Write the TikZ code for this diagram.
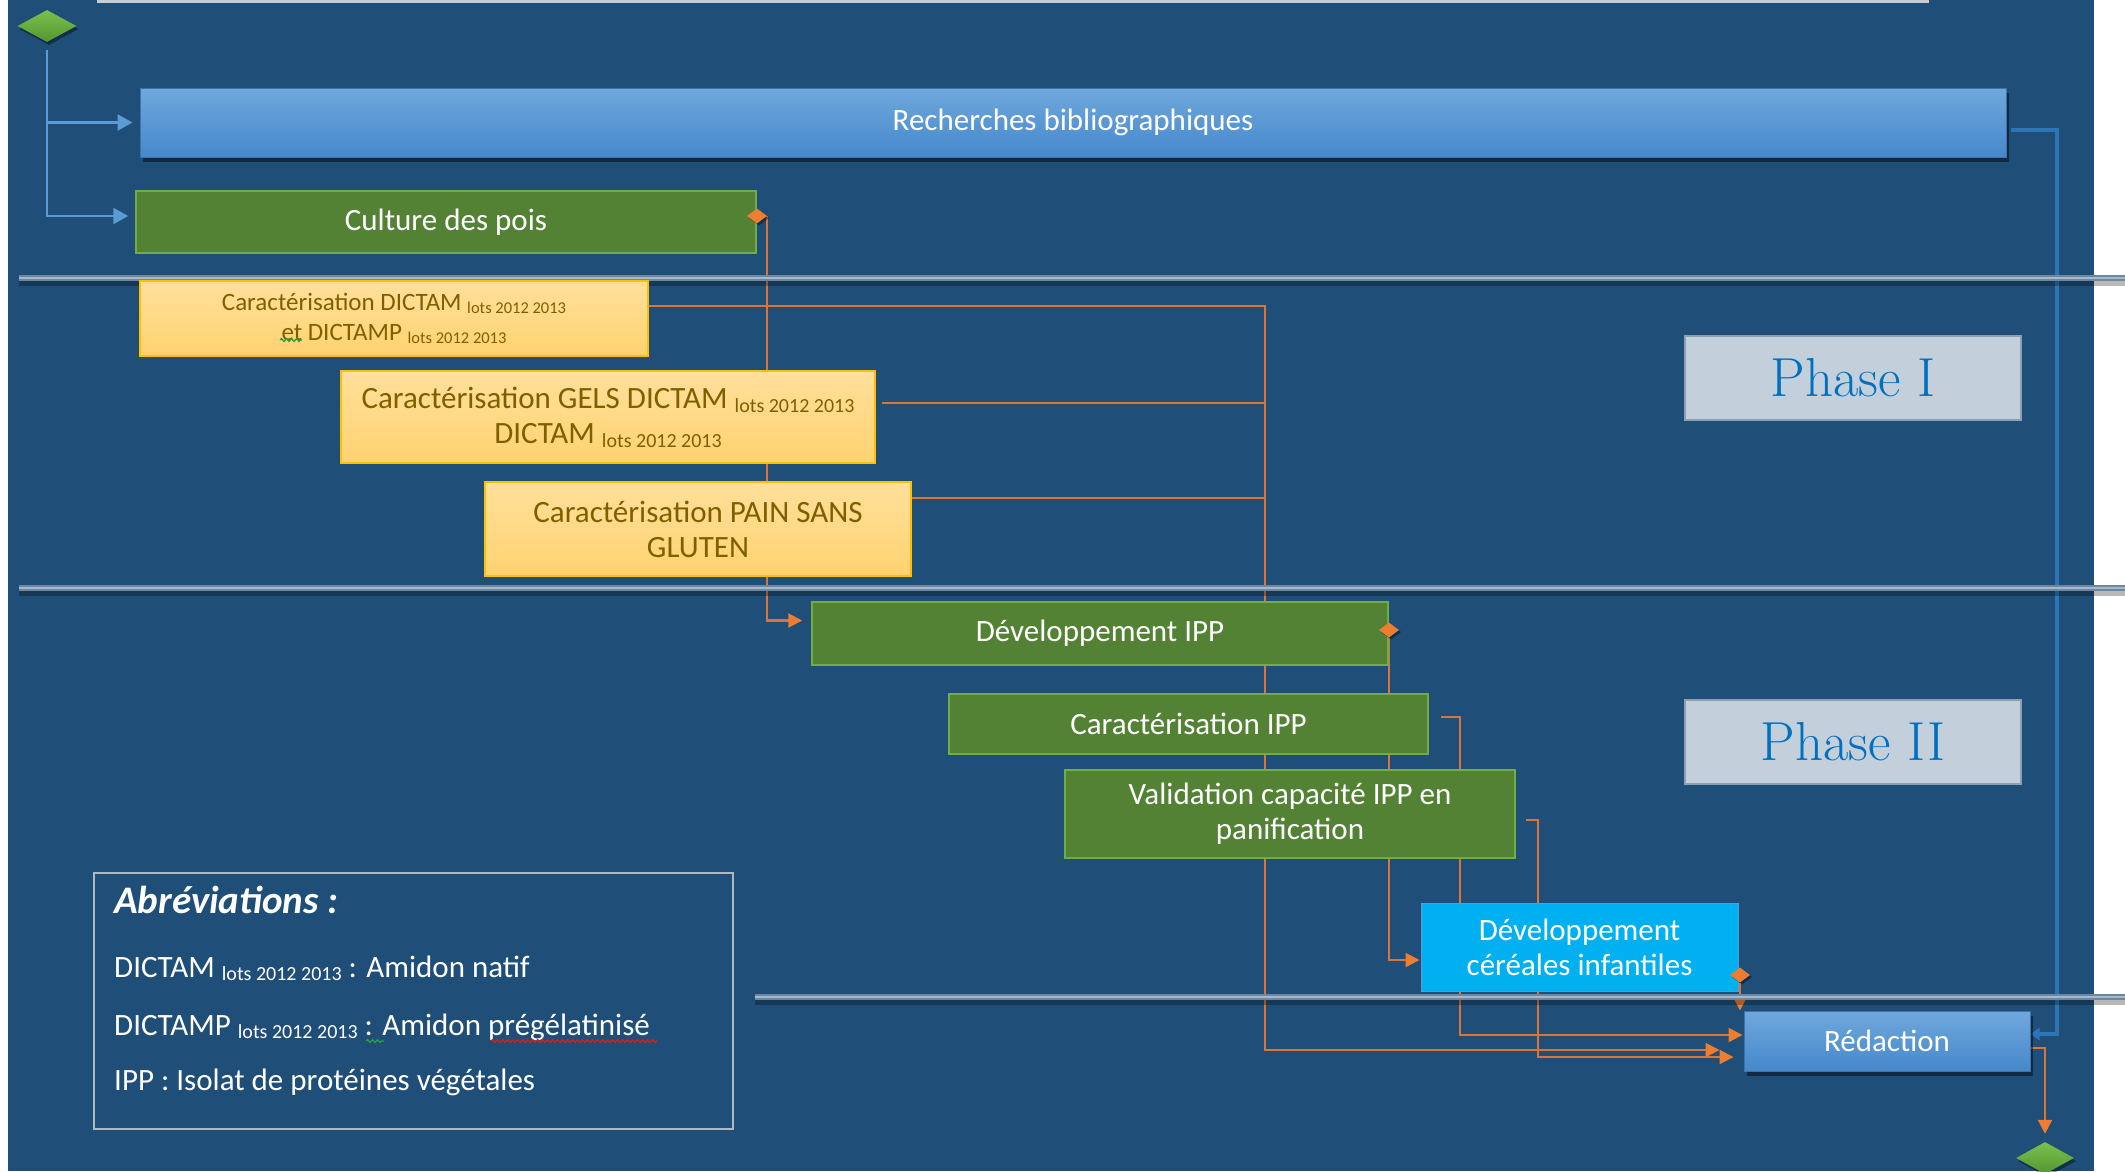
\documentclass[tikz,border=0pt]{standalone}
\usepackage{fontspec}
\newfontfamily\carlito{Carlito}
\usetikzlibrary{shapes.geometric,arrows.meta,shadows,decorations.pathmorphing}
\pgfdeclarelayer{panel}
\pgfdeclarelayer{links}
\pgfsetlayers{panel,links,main}

\definecolor{color1}{RGB}{31,78,121}
\definecolor{color2}{RGB}{111,168,220}
\definecolor{color3}{RGB}{70,136,204}
\definecolor{color4}{RGB}{65,113,170}
\definecolor{color5}{RGB}{84,130,53}
\definecolor{color6}{RGB}{112,173,71}
\definecolor{color7}{RGB}{255,224,155}
\definecolor{color8}{RGB}{255,210,112}
\definecolor{color9}{RGB}{255,192,0}
\definecolor{color10}{RGB}{127,96,0}
\definecolor{color11}{RGB}{0,176,240}
\definecolor{color12}{RGB}{91,155,213}
\definecolor{color13}{RGB}{237,125,49}
\definecolor{color14}{RGB}{220,115,55}
\definecolor{color15}{RGB}{91,155,213}
\definecolor{color16}{RGB}{46,117,182}
\definecolor{color17}{RGB}{195,207,218}
\definecolor{color18}{RGB}{140,160,180}
\definecolor{color19}{RGB}{0,112,192}
\definecolor{color20}{RGB}{110,135,160}
\definecolor{color21}{RGB}{165,185,205}
\definecolor{color22}{RGB}{175,185,195}
\definecolor{color23}{RGB}{122,193,76}
\definecolor{color24}{RGB}{84,150,50}
\definecolor{color25}{RGB}{200,205,212}
\definecolor{color26}{RGB}{215,30,30}
\definecolor{color27}{RGB}{40,160,60}

\newcommand{\lotssub}[1]{\raisebox{-0.25ex}{\fontsize{#1}{#1}\selectfont lots 2012 2013}}

\tikzset{
	mainfont/.style={font=\carlito\fontsize{31}{35}\selectfont},
	bluebar/.style={rectangle, draw=color4, line width=1pt, top color=color2, bottom color=color3, text=white, mainfont, drop shadow={shadow xshift=3pt, shadow yshift=-5pt, opacity=0.45, fill=black}},
	greenbar/.style={rectangle, fill=color5, draw=color6, line width=1.5pt, text=white, mainfont, align=center},
	yellowbar/.style={rectangle, draw=color9, line width=1.5pt, top color=color7, bottom color=color8, text=color10, mainfont, align=center},
	cyanbar/.style={rectangle, fill=color11, draw=color12, line width=1pt, text=white, mainfont, align=center},
	phasebox/.style={rectangle, fill=color17, draw=color18, line width=2pt, text=color19, font=\fontsize{55}{64}\selectfont},
	milestone/.style={diamond, inner sep=0pt, draw=none, top color=color23, bottom color=color24, drop shadow={shadow xshift=2pt, shadow yshift=-3pt, opacity=0.4, fill=black}},
	joint/.style={diamond, inner sep=0pt, fill=color13, minimum width=20pt, minimum height=15pt, drop shadow={shadow xshift=2pt, shadow yshift=-2pt, opacity=0.4, fill=black}},
	orangelink/.style={draw=color14, line width=2.2pt},
	orangearrow/.style={orangelink, -{Triangle[length=14pt,width=14pt,color=color13]}},
	bluearrow/.style={draw=color15, line width=2.5pt, shorten >=7pt, -{Triangle[length=15pt,width=16pt]}},
	bluelink/.style={draw=color16, line width=3.5pt, -{Triangle[length=9pt,width=12pt]}},
	sepline/.style={draw=color20, line width=1.8pt, double=color21, double distance=2pt},
	sepshadow/.style={draw=black, opacity=0.28, line width=5pt},
	legendtext/.style={anchor=base west, inner sep=0pt, text=white, mainfont},
	squiggle/.style={line width=1.3pt, decorate, decoration={snake, amplitude=1.4pt, segment length=5pt}}
}

\begin{document}
\begin{tikzpicture}[x=1pt, y=-1pt]
	\useasboundingbox (0,0) rectangle (2125,1171);
	\begin{pgfonlayer}{panel}
		\fill[color1] (8,0) rectangle (2094,1171);
		\draw[color25, line width=3pt] (97,1.5) -- (1929,1.5);
	\end{pgfonlayer}
	% phase separators
	\draw[sepshadow] (19,283) -- (2125,283);
	\draw[sepline] (19,278) -- (2125,278);
	\draw[sepshadow] (19,593) -- (2125,593);
	\draw[sepline] (19,588) -- (2125,588);
	\draw[sepshadow] (755,1002) -- (2125,1002);
	\draw[sepline] (755,997) -- (2125,997);
	% milestones
	\node[milestone, minimum width=59pt, minimum height=32pt] (m1) at (47,26) {};
	\node[milestone, minimum width=58pt, minimum height=32pt] (m2) at (2045,1158) {};
	% phase I
	\node[bluebar, minimum width=1866pt, minimum height=69pt] (n1) at (1073,122.5) {Recherches bibliographiques};
	\node[greenbar, minimum width=620pt, minimum height=62pt] (n2) at (446,222) {Culture des pois};
	\node[joint] (j2) at (757,216) {};
	\node[yellowbar, minimum width=508pt, minimum height=75pt, font=\carlito\fontsize{25}{30}\selectfont] (n3) at (394,318.5) {Caractérisation DICTAM \lotssub{16.5}\\et DICTAMP \lotssub{16.5}};
	\node[yellowbar, minimum width=534pt, minimum height=92pt] (n4) at (608,417) {Caractérisation GELS DICTAM \lotssub{20}\\DICTAM \lotssub{20}};
	\node[yellowbar, minimum width=426pt, minimum height=94pt] (n5) at (698,529) {Caractérisation PAIN SANS\\GLUTEN};
	% phase II
	\node[greenbar, minimum width=576pt, minimum height=63pt] (n6) at (1100,633.5) {Développement IPP};
	\node[joint] (j6) at (1389,630) {};
	\node[greenbar, minimum width=479pt, minimum height=60pt] (n7) at (1188.5,724) {Caractérisation IPP};
	\node[greenbar, minimum width=450pt, minimum height=88pt] (n8) at (1290,814) {Validation capacité IPP en\\panification};
	\node[cyanbar, minimum width=317pt, minimum height=88pt] (n9) at (1579.5,947) {Développement\\céréales infantiles};
	\node[joint] (j9) at (1740,975) {};
	\node[bluebar, minimum width=286pt, minimum height=60pt] (n10) at (1887,1041) {Rédaction};
	% phase labels
	\node[phasebox, minimum width=336pt, minimum height=84pt] (n11) at (1853,377.5) {Phase I};
	\node[phasebox, minimum width=336pt, minimum height=84pt] (n12) at (1853,742) {Phase II};
	% abbreviations
	\node[draw=color22, line width=2pt, minimum width=639pt, minimum height=256pt] (n13) at (413.5,1001) {};
	\node[legendtext, font=\carlito\fontsize{39}{42}\selectfont\bfseries\itshape] (n14) at (114,913) {Abréviations :};
	\node[legendtext] (n15) at (114,977) {DICTAM \lotssub{20} : Amidon natif};
	\node[legendtext] (n16) at (114,1035) {DICTAMP \lotssub{20} : Amidon prégélatinisé};
	\node[legendtext] (n17) at (114,1090) {IPP : Isolat de protéines végétales};
	\draw[squiggle, color26] (491,1041) -- (657,1041);
	\draw[squiggle, color27] (366,1041) -- (384,1041);
	\draw[squiggle, color27] (280,340) -- (302,340);
	% links
	\begin{pgfonlayer}{links}
		\draw[bluearrow] ([yshift=-8pt]m1.south) |- (n1.west);
		\draw[bluearrow] ([yshift=-8pt]m1.south) |- ([yshift=6pt]n2.west);
		\coordinate (rb) at (2057,130);
		\draw[bluelink, shorten <=4pt] (n1.east |- rb) -- (rb) |- ([yshift=7pt]n10.east);
		\draw[orangearrow, shorten >=9pt] (j2.east) |- ([yshift=13pt]n6.west);
		\coordinate (c1) at (1265,1050);
		\draw[orangearrow, shorten >=24pt] ([yshift=12.5pt]n3.east) -| (c1) -- (c1 -| n10.west);
		\draw[orangelink] ([xshift=6pt,yshift=14pt]n4.east) -| (c1);
		\draw[orangelink] ([yshift=31pt]n5.east) -| (c1);
		\coordinate (c2) at (1460,1035);
		\draw[orangearrow, shorten >=1pt] ([xshift=12pt,yshift=7pt]n7.east) -| (c2) -- (c2 -| n10.west);
		\coordinate (c3) at (1538,1057);
		\draw[orangearrow, shorten >=10pt] ([xshift=10pt,yshift=-6pt]n8.east) -| (c3) -- (c3 -| n10.west);
		\draw[orangearrow, shorten >=1pt] (j6.south) |- ([yshift=-13pt]n9.west);
		\draw[orangearrow] (j9.south) -- (j9.south |- n10.north);
		\draw[orangearrow, shorten >=8pt] ([yshift=-7pt]n10.east) -| (m2.north);
	\end{pgfonlayer}
\end{tikzpicture}
\end{document}
